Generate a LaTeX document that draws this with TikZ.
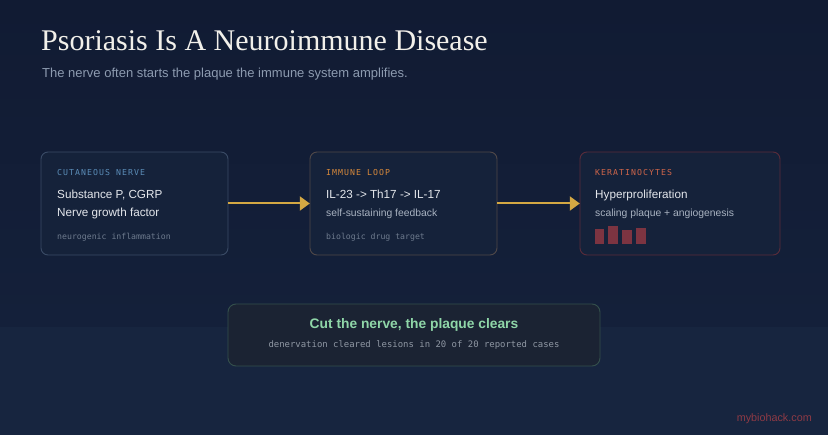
\documentclass[tikz,border=0pt]{standalone}
\usepackage{fontspec}
\setmainfont{Liberation Serif}
\setsansfont{Liberation Sans}
\setmonofont{DejaVu Sans Mono}
\newfontfamily\spacedmono[LetterSpace=13]{DejaVu Sans Mono}
\usetikzlibrary{arrows.meta}
\definecolor{bgtop}{HTML}{111B33}
\definecolor{bgmid}{HTML}{14203A}
\definecolor{bgbot}{HTML}{17253F}
\definecolor{boxfill}{HTML}{15223A}
\definecolor{bnerve}{HTML}{3A4B66}
\definecolor{bimmune}{HTML}{504848}
\definecolor{bkera}{HTML}{5A2C3A}
\definecolor{lnerve}{HTML}{5B8DB8}
\definecolor{limmune}{HTML}{D98A3A}
\definecolor{lkera}{HTML}{D0664A}
\definecolor{maintxt}{HTML}{E4E7EC}
\definecolor{subtxt}{HTML}{A9B3C1}
\definecolor{monotxt}{HTML}{6E7B8E}
\definecolor{gold}{HTML}{D4A843}
\definecolor{barcol}{HTML}{7C3441}
\definecolor{botfill}{HTML}{1B2333}
\definecolor{botborder}{HTML}{34504C}
\definecolor{green}{HTML}{8FD6A8}
\definecolor{titlecol}{HTML}{F2F0EA}
\definecolor{subtitle}{HTML}{8D9BB0}
\definecolor{wm}{HTML}{8E3A45}
\tikzset{
  card/.style={draw, line width=0.9pt, rounded corners=7pt, fill=boxfill},
  lab/.style={anchor=base west, inner sep=0pt, font=\spacedmono\fontsize{8.2}{10}\selectfont},
  big/.style={anchor=base west, inner sep=0pt, text=maintxt, font=\sffamily\fontsize{11.7}{14}\selectfont},
  small/.style={anchor=base west, inner sep=0pt, text=subtxt, font=\sffamily\fontsize{10.35}{12}\selectfont},
  mono/.style={anchor=base west, inner sep=0pt, text=monotxt, font=\ttfamily\fontsize{8.2}{10}\selectfont},
  flow/.style={draw=gold, line width=2pt, -{Triangle[length=10pt,width=14pt]}},
  bar/.style={fill=barcol, draw=none}
}
\begin{document}
\begin{tikzpicture}[x=1pt,y=-1pt]
\shade[top color=bgtop, bottom color=bgmid] (0,0) rectangle (828,327);
\fill[bgbot] (0,327) rectangle (828,435);
\useasboundingbox (0,0) rectangle (828,435);

\node[anchor=base west, inner sep=0pt, text=titlecol, font=\rmfamily\fontsize{30}{32}\selectfont] (title) at (41,51) {Psoriasis Is A Neuroimmune Disease};
\node[anchor=base west, inner sep=0pt, text=subtitle, font=\sffamily\fontsize{13}{15}\selectfont] (subtitle) at (42,78) {The nerve often starts the plaque the immune system amplifies.};

% cards
\draw[card, draw=bnerve] (41,152) rectangle (228,255);
\node[draw=none, minimum width=187pt, minimum height=103pt, inner sep=0pt] (nerve) at (134.5,203.5) {};
\draw[card, draw=bimmune] (310,152) rectangle (497,255);
\node[draw=none, minimum width=187pt, minimum height=103pt, inner sep=0pt] (immune) at (403.5,203.5) {};
\draw[card, draw=bkera] (580,152) rectangle (780,255);
\node[draw=none, minimum width=200pt, minimum height=103pt, inner sep=0pt] (kera) at (680,203.5) {};

% nerve text
\node[lab, text=lnerve] (l1) at (57,175.5) {CUTANEOUS NERVE};
\node[big] (t1a) at (57,199) {Substance P, CGRP};
\node[big] (t1b) at (57,217) {Nerve growth factor};
\node[mono] (m1) at (57,239.5) {neurogenic inflammation};

% immune text
\node[lab, text=limmune] (l2) at (326,175.5) {IMMUNE LOOP};
\node[big] (t2a) at (326,199) {IL-23 -> Th17 -> IL-17};
\node[small] (t2b) at (326,217) {self-sustaining feedback};
\node[mono] (m2) at (326,239.5) {biologic drug target};

% kera text
\node[lab, text=lkera] (l3) at (595,175.5) {KERATINOCYTES};
\node[big] (t3a) at (595,199) {Hyperproliferation};
\node[small] (t3b) at (595,217) {scaling plaque + angiogenesis};
\fill[bar] (595,229.3) rectangle (604.3,244);
\fill[bar] (608.3,226.3) rectangle (618.3,244);
\fill[bar] (622.3,230.3) rectangle (631.7,244);
\fill[bar] (636,227.7) rectangle (646,244);

% arrows
\draw[flow] (nerve.east) -- (immune.west);
\draw[flow] (immune.east) -- (kera.west);

% bottom
\draw[line width=0.9pt, rounded corners=8pt, fill=botfill, draw=botborder] (228,304) rectangle (600,366);
\node[draw=none, minimum width=372pt, minimum height=62pt, inner sep=0pt] (result) at (414,335) {};
\node[anchor=base, inner sep=0pt, text=green, font=\sffamily\bfseries\fontsize{13.8}{15}\selectfont] (r1) at (414,328.5) {Cut the nerve, the plaque clears};
\node[anchor=base, inner sep=0pt, text=subtxt!85!black, font=\ttfamily\fontsize{8.95}{10}\selectfont] (r2) at (414,348) {denervation cleared lesions in 20 of 20 reported cases};

\node[anchor=base east, inner sep=0pt, text=wm, font=\sffamily\fontsize{10.8}{12}\selectfont] (wmk) at (812,422) {mybiohack.com};
\end{tikzpicture}
\end{document}
